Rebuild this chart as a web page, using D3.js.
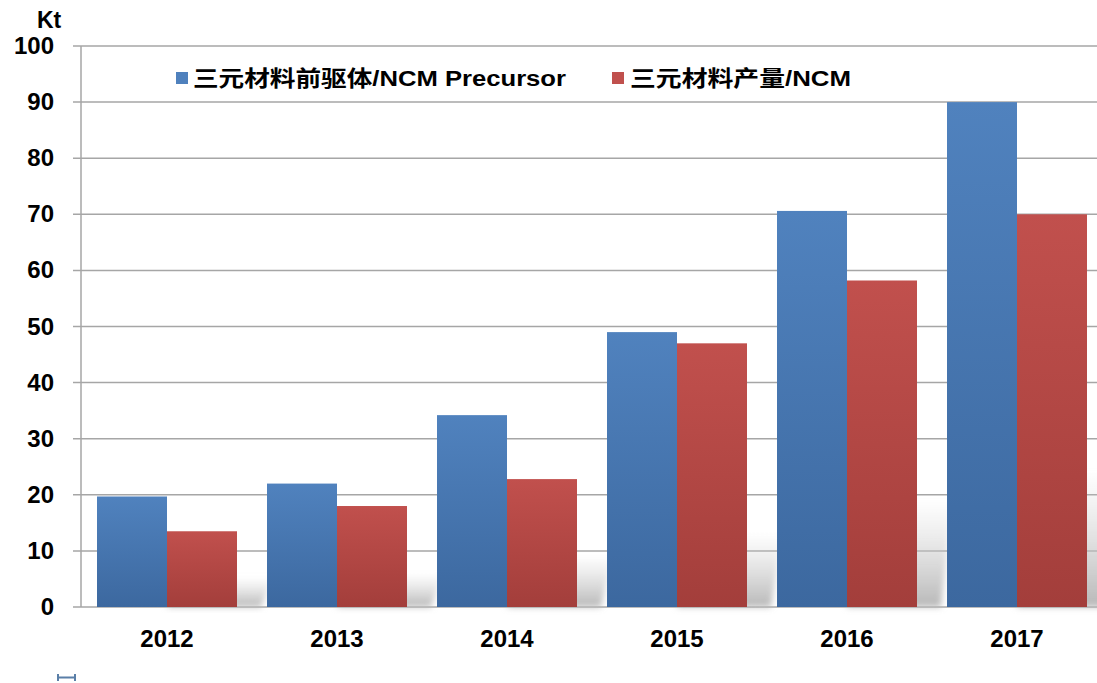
<!DOCTYPE html>
<html>
<head>
<meta charset="utf-8">
<script src="https://cdn.jsdelivr.net/npm/d3@7"></script>
<style>
  body { margin: 0; background: #fff; }
  text { font-family: Arial, "Liberation Sans", "Noto Sans CJK SC", sans-serif; font-weight: bold; fill: #000; }
</style>
</head>
<body>
<div id="chart"></div>
<script>
let w = 1097;
let h = 683;

// data
const years = ['2012', '2013', '2014', '2015', '2016', '2017'];
const precursor = [19.7, 22.0, 34.2, 49.0, 70.6, 90.0];
const ncm = [13.5, 18.0, 22.8, 47.0, 58.2, 70.0];
const yTicks = [0, 10, 20, 30, 40, 50, 60, 70, 80, 90, 100];
const seriesNames = ['三元材料前驱体/NCM Precursor', '三元材料产量/NCM'];

let padL = 82, padR = 1102, padT = 46, padB = 607;

let svg = d3.select('#chart')
  .append('svg')
  .attr('width', w)
  .attr('height', h);

let defs = svg.append('defs');
function grad(id, c1, c2) {
  let g = defs.append('linearGradient').attr('id', id)
    .attr('x1', 0).attr('y1', 0).attr('x2', 0).attr('y2', 1);
  g.append('stop').attr('offset', '0%').attr('stop-color', c1);
  g.append('stop').attr('offset', '100%').attr('stop-color', c2);
}
grad('gBlue', '#5082be', '#3c689f');
grad('gRed', '#c1504d', '#a33e3b');
let sg = defs.append('linearGradient').attr('id', 'gShadow')
  .attr('x1', 0).attr('y1', 1).attr('x2', 0).attr('y2', 0);
sg.append('stop').attr('offset', '0%').attr('stop-color', '#b8b8b8').attr('stop-opacity', 1);
sg.append('stop').attr('offset', '100%').attr('stop-color', '#d0d0d0').attr('stop-opacity', 0);
defs.append('filter').attr('id', 'blur')
  .attr('x', '-20%').attr('y', '-20%').attr('width', '140%').attr('height', '140%')
  .append('feGaussianBlur').attr('stdDeviation', 3);

let x0 = d3.scaleBand()
  .domain(years)
  .range([padL, padR])
  .paddingInner(30 / 170)
  .paddingOuter(15 / 170);
let x1 = d3.scaleBand()
  .domain([0, 1])
  .range([0, x0.bandwidth()]);
let y = d3.scaleLinear()
  .domain([0, 100])
  .range([padB, padT]);

// gridlines
svg.append('g')
  .selectAll('line')
  .data(yTicks)
  .enter()
  .append('line')
  .attr('x1', padL - 9)
  .attr('x2', w)
  .attr('y1', d => y(d))
  .attr('y2', d => y(d))
  .attr('stroke', '#a6a6a6')
  .attr('stroke-width', 1.5);

// y axis line
svg.append('line')
  .attr('x1', padL - 1).attr('x2', padL - 1)
  .attr('y1', y(100)).attr('y2', y(0))
  .attr('stroke', '#a6a6a6')
  .attr('stroke-width', 1.5);

// y labels
svg.append('g')
  .selectAll('text')
  .data(yTicks)
  .enter()
  .append('text')
  .attr('x', 54)
  .attr('y', d => y(d) + 8)
  .attr('text-anchor', 'end')
  .style('font-size', '24px')
  .text(d => d);

svg.append('text')
  .attr('x', 37).attr('y', 28)
  .style('font-size', '23px')
  .text('Kt');

// shadows
let maxs = years.map((d, i) => Math.max(precursor[i], ncm[i]));
svg.append('g')
  .selectAll('path')
  .data(years)
  .enter()
  .append('path')
  .attr('d', (d, i) => {
    let xs = x0(d) + x0.bandwidth() * 0.5;
    let xe = x0(d) + x0.bandwidth() + 24;
    let sh = (y(0) - y(maxs[i])) * 0.27;
    return 'M' + xs + ',' + y(0) + 'L' + xe + ',' + y(0) +
      'L' + (xe + 12) + ',' + (y(0) - sh) + 'L' + (xs + 12) + ',' + (y(0) - sh) + 'Z';
  })
  .attr('fill', 'url(#gShadow)')
  .attr('filter', 'url(#blur)');

// bars
let groups = svg.append('g')
  .selectAll('g')
  .data(years)
  .enter()
  .append('g')
  .attr('transform', d => 'translate(' + x0(d) + ',0)');

groups.append('rect')
  .attr('x', x1(0))
  .attr('y', (d, i) => y(precursor[i]))
  .attr('width', x1.bandwidth())
  .attr('height', (d, i) => y(0) - y(precursor[i]))
  .attr('fill', 'url(#gBlue)');

groups.append('rect')
  .attr('x', x1(1))
  .attr('y', (d, i) => y(ncm[i]))
  .attr('width', x1.bandwidth())
  .attr('height', (d, i) => y(0) - y(ncm[i]))
  .attr('fill', 'url(#gRed)');

// x labels
svg.append('g')
  .selectAll('text')
  .data(years)
  .enter()
  .append('text')
  .attr('x', d => x0(d) + x0.bandwidth() / 2)
  .attr('y', 647)
  .attr('text-anchor', 'middle')
  .style('font-size', '24px')
  .text(d => d);

// legend
let legend = [
  { name: seriesNames[0], color: '#4f81bd', sx: 176, tx: 193, tw: 373 },
  { name: seriesNames[1], color: '#c0504d', sx: 612, tx: 630, tw: 221 }
];
legend.forEach(l => {
  svg.append('rect')
    .attr('x', l.sx).attr('y', 72)
    .attr('width', 12).attr('height', 12)
    .attr('fill', l.color);
  svg.append('text')
    .attr('x', l.tx).attr('y', 86)
    .style('font-size', '22px')
    .attr('textLength', l.tw)
    .attr('lengthAdjust', 'spacingAndGlyphs')
    .text(l.name);
});

// little marker bottom-left
svg.append('path')
  .attr('d', 'M58,674V681M58,677.5H75M75,674V681')
  .attr('stroke', '#5a7fa8')
  .attr('stroke-width', 2)
  .attr('fill', 'none');
</script>
</body>
</html>
